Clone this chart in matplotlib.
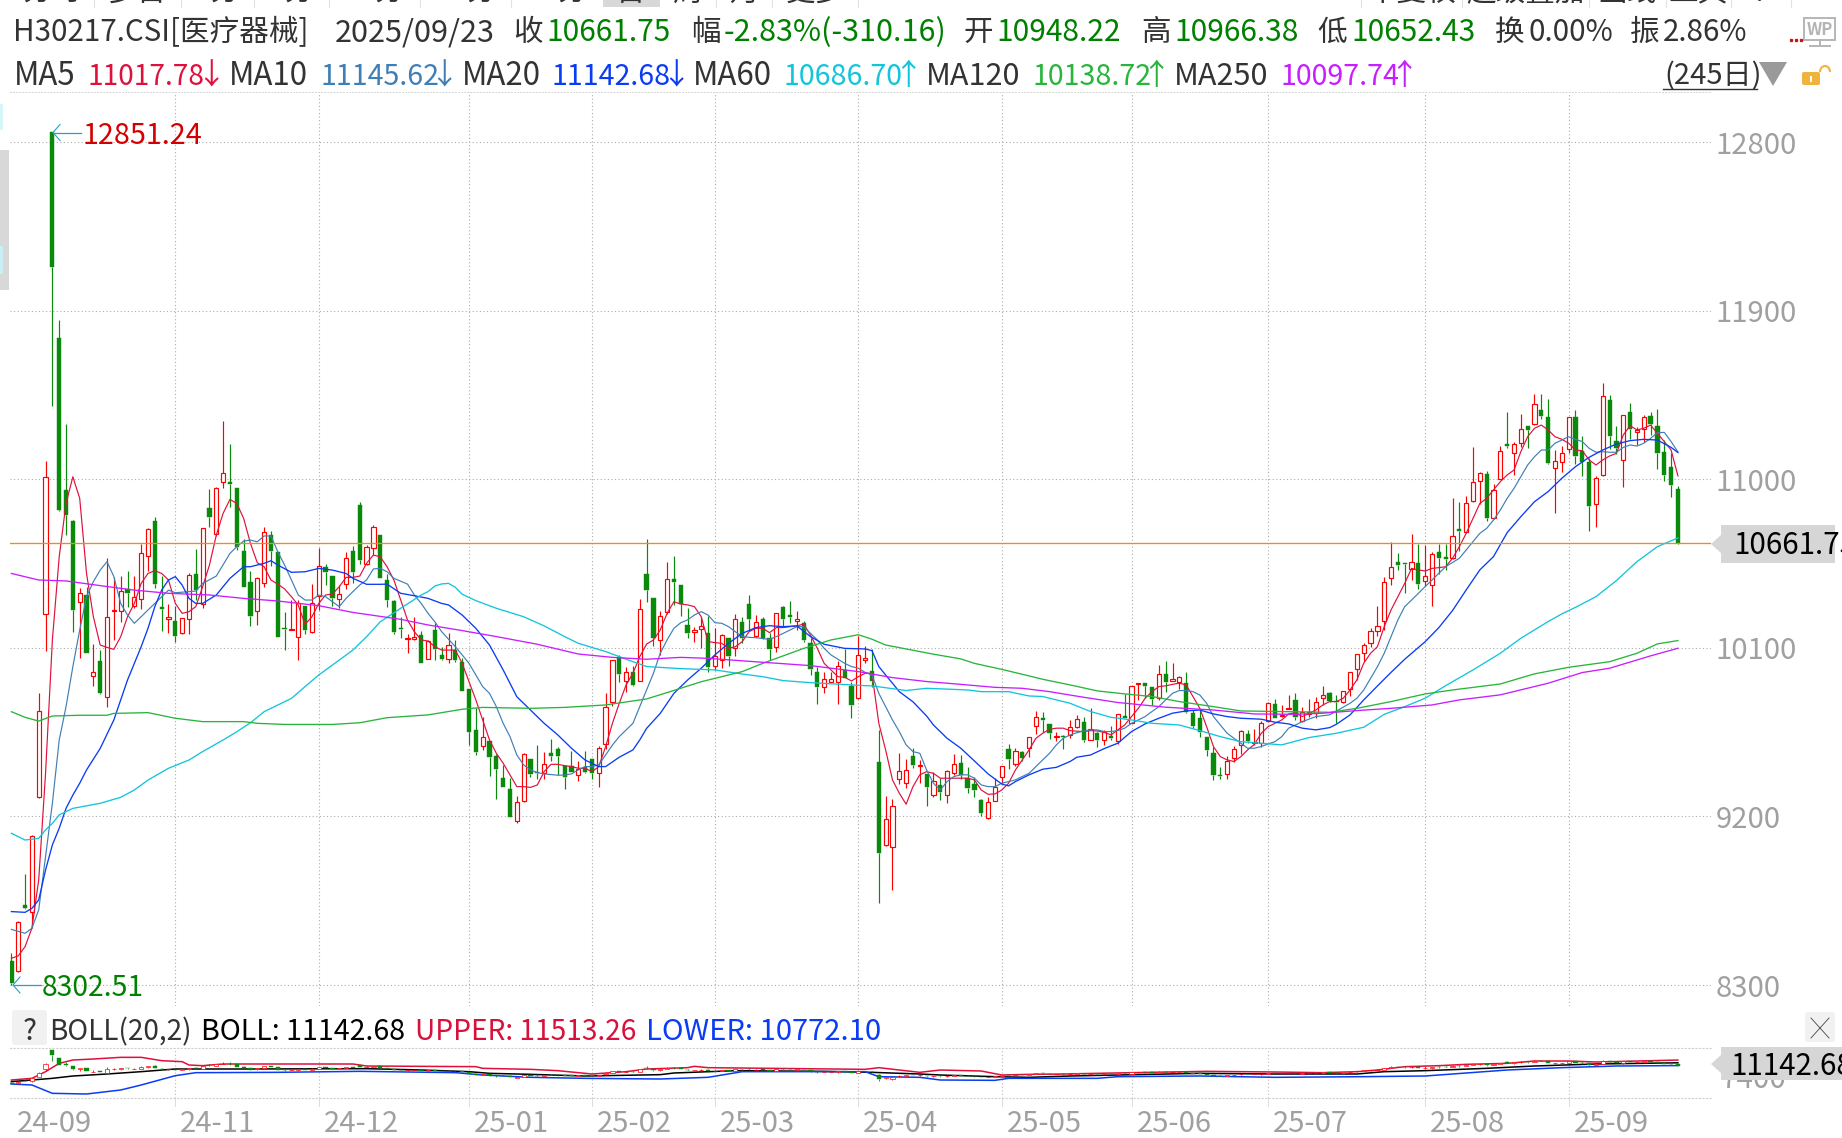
import matplotlib
matplotlib.use("Agg")
import matplotlib.pyplot as plt
from matplotlib.patches import Rectangle, FancyBboxPatch, Polygon, Arc

plt.rcParams['font.family'] = ['Noto Sans CJK SC', 'DejaVu Sans']

W, H = 1842, 1138

#%% candles
opens = [8430,8375,8727,8692,9306,10280,12851,11754,10942,10777,
    10346,10382,9951,10030,9839,10296,10298,10412,10325,10359,
    10592,10777,10316,10254,10243,10181,10252,10492,10334,10844,
    10707,10983,10983,10951,10617,10449,10298,10444,10702,10609,
    10206,10193,10156,10325,10186,10378,10533,10483,10359,10439,
    10617,10862,10545,10631,10702,10462,10350,10206,10145,10145,
    10168,10038,10195,10062,10042,10087,10023,9878,9662,9574,
    9603,9524,9405,9347,9174,9284,9505,9439,9434,9537,
    9560,9471,9471,9420,9462,9507,9430,9585,9813,10051,
    9921,9969,9921,10494,10366,10140,10289,10466,10435,10220,
    10186,10199,10177,10005,10035,10151,10101,10238,10334,10165,
    10254,10151,10103,10316,10273,10245,10234,10124,9969,9893,
    9919,9916,9983,9898,9830,10037,9977,9491,9046,9035,
    9398,9381,9523,9471,9427,9313,9366,9315,9434,9484,
    9404,9374,9288,9190,9281,9409,9558,9482,9544,9567,
    9683,9724,9692,9626,9630,9633,9679,9703,9607,9644,
    9610,9631,9605,9735,9701,9909,9911,9891,9834,9961,
    9925,9920,9911,9754,9724,9624,9539,9423,9425,9510,
    9580,9640,9594,9594,9712,9799,9735,9776,9820,9711,
    9747,9754,9831,9859,9816,9809,9879,9985,10071,10124,
    10188,10245,10471,10558,10551,10519,10553,10459,10434,10610,
    10583,10578,10733,10717,10882,10989,11028,10791,11003,11186,
    11138,11192,11284,11297,11370,11332,11058,11090,11160,11332,
    11151,11092,10866,11021,11421,11204,11101,11357,11254,11268,
    11336,11284,11145,11064,10948.22]
closes = [8313,8634,8709,9097,9761,11013,12134,10836,10809,10302,
    10391,10070,9969,9857,10266,10302,10405,10394,10373,10604,
    10732,10440,10307,10263,10165,10261,10487,10408,10738,10800,
    10951,11031,10976,10636,10426,10271,10471,10720,10618,10159,
    10200,10202,10341,10195,10337,10538,10506,10368,10389,10577,
    10503,10569,10636,10743,10471,10355,10186,10200,10150,10159,
    10021,10136,10092,10040,10113,10035,9871,9653,9546,9622,
    9519,9455,9359,9199,9275,9532,9428,9434,9478,9524,
    9524,9409,9439,9452,9436,9434,9564,9782,10033,9962,
    9969,9902,10305,10410,10154,10272,10466,10453,10334,10179,
    10193,10215,10000,10058,10167,10058,10252,10154,10256,10236,
    10152,10094,10284,10252,10266,10252,10144,9985,9893,9935,
    9932,10005,9941,9797,10060,10044,9925,9007,9185,9253,
    9441,9446,9475,9475,9359,9388,9333,9441,9478,9422,
    9352,9343,9220,9279,9359,9471,9509,9548,9512,9626,
    9733,9717,9647,9630,9626,9679,9719,9608,9665,9608,
    9649,9621,9745,9728,9897,9914,9898,9827,9959,9918,
    9932,9943,9760,9683,9653,9555,9422,9418,9494,9558,
    9655,9605,9599,9697,9804,9728,9740,9779,9733,9759,
    9756,9809,9847,9818,9813,9872,9969,10066,10114,10188,
    10215,10450,10530,10544,10548,10556,10443,10482,10599,10581,
    10576,10699,10726,10875,10983,11032,10795,10941,11149,11177,
    11186,11266,11265,11400,11339,11088,11099,11138,11330,11126,
    11090,10859,11005,11446,11233,11167,11341,11266,11263,11330,
    11293,11142,11023,10971,10661.75]
highs = [8471,8644,8893,9100,9857,11097,12851.24,11850,11295,10780,
    10417,10426,10120,10088,10578,10480,10483,10510,10483,10654,
    10738,10796,10483,10334,10325,10261,10497,10626,10738,10946,
    10960,11311,11188,10951,10679,10510,10476,10743,10725,10609,
    10291,10355,10355,10325,10440,10631,10547,10483,10435,10613,
    10643,10878,10649,10755,10702,10494,10355,10266,10174,10266,
    10190,10142,10231,10106,10177,10142,10044,9878,9777,9733,
    9603,9533,9475,9404,9309,9537,9505,9581,9542,9613,
    9569,9475,9551,9498,9551,9507,9576,9857,10033,10060,
    9996,10003,10361,10679,10366,10298,10558,10590,10435,10311,
    10213,10266,10270,10204,10172,10151,10281,10266,10382,10275,
    10263,10177,10284,10323,10350,10295,10243,10151,10000,9973,
    9973,10030,10094,9919,10163,10110,10092,9662,9309,9293,
    9541,9505,9564,9502,9427,9439,9404,9448,9534,9526,
    9462,9413,9295,9306,9407,9471,9587,9564,9551,9626,
    9763,9758,9692,9653,9635,9715,9742,9729,9777,9653,
    9662,9681,9745,9852,9897,9914,9911,9891,10007,10030,
    10019,9950,9971,9768,9768,9624,9569,9466,9523,9576,
    9662,9662,9667,9711,9813,9825,9795,9848,9857,9783,
    9825,9836,9896,9866,9848,9872,9969,10066,10124,10204,
    10323,10476,10663,10606,10555,10708,10654,10649,10613,10654,
    10654,10900,10877,10911,11170,11040,11042,10973,11177,11359,
    11201,11348,11284,11455,11455,11428,11156,11177,11330,11369,
    11231,11112,11017,11512,11450,11284,11341,11407,11277,11343,
    11359,11375,11209,11138,10966.38]
lows = [8302.51,8369,8704,8603,9297,10085,11391,10830,10702,10186,
    10044,10070,9898,9853,9782,10142,10240,10320,10311,10307,
    10512,10421,10190,10181,10133,10172,10174,10355,10311,10746,
    10697,10955,10853,10622,10426,10216,10222,10426,10537,10159,
    10088,10193,10035,10174,10181,10302,10435,10325,10311,10414,
    10448,10547,10542,10595,10471,10320,10174,10154,10070,10142,
    10021,10038,10035,10035,10021,10023,9871,9581,9528,9555,
    9416,9295,9355,9199,9163,9279,9412,9398,9398,9496,
    9421,9348,9439,9391,9430,9402,9359,9558,9791,9919,
    9866,9898,9921,10346,10112,10062,10281,10329,10272,10154,
    10133,10101,9973,9982,9994,10005,10056,10124,10192,10156,
    10149,10035,10080,10209,10234,10195,10131,9955,9800,9861,
    9919,9800,9937,9727,9827,10017,9893,8737,9043,8808,
    9374,9354,9461,9381,9258,9306,9288,9274,9422,9400,
    9327,9306,9203,9185,9281,9377,9455,9471,9496,9516,
    9640,9653,9615,9603,9562,9617,9671,9599,9607,9573,
    9582,9608,9587,9728,9697,9822,9831,9795,9822,9866,
    9925,9881,9751,9671,9626,9525,9395,9402,9402,9493,
    9534,9594,9582,9573,9706,9724,9729,9776,9715,9704,
    9733,9724,9795,9813,9701,9804,9843,9929,10032,10106,
    10165,10195,10436,10516,10395,10462,10414,10432,10325,10494,
    10516,10573,10617,10711,10880,10868,10779,10786,11003,11168,
    11023,11170,11168,11289,11321,11081,10822,11040,11138,11080,
    11019,10725,10747,11017,11161,11135,10960,11215,11183,11201,
    11236,11055,10991,10907,10652.43]

#%% moving averages
ma5 = [8443,8455,8505,8603,8861,9430,10142,10586,10871,11013,
    10898,10497,10266,10115,10102,10092,10159,10266,10337,10444,
    10497,10512,10497,10462,10337,10284,10293,10320,10426,10542,
    10702,10818,10892,10871,10791,10658,10554,10533,10462,10440,
    10414,10373,10328,10225,10266,10337,10382,10387,10426,10476,
    10476,10483,10551,10595,10586,10533,10462,10355,10248,10186,
    10142,10136,10106,10088,10088,10088,10017,9919,9822,9715,
    9608,9537,9484,9421,9359,9359,9355,9368,9439,9478,
    9478,9471,9466,9457,9457,9439,9466,9572,9697,9804,
    9902,9964,10053,10120,10142,10195,10284,10346,10334,10329,
    10320,10266,10133,10128,10124,10097,10106,10133,10186,10204,
    10204,10181,10208,10208,10213,10217,10227,10168,10097,10017,
    9982,9946,9943,9923,9946,9964,9964,9697,9555,9395,
    9324,9265,9359,9422,9439,9430,9404,9404,9404,9404,
    9404,9395,9341,9318,9320,9341,9377,9448,9502,9555,
    9617,9644,9665,9671,9671,9658,9655,9653,9658,9656,
    9649,9635,9662,9688,9733,9777,9831,9866,9893,9897,
    9905,9911,9902,9840,9777,9679,9573,9519,9502,9493,
    9519,9555,9585,9644,9679,9697,9715,9747,9754,9733,
    9751,9768,9795,9813,9813,9831,9875,9929,10018,10071,
    10106,10213,10302,10373,10444,10524,10516,10510,10524,10528,
    10533,10578,10640,10711,10791,10871,10898,10943,10987,11023,
    11049,11147,11227,11272,11289,11263,11227,11213,11192,11156,
    11152,11103,11076,11103,11124,11138,11236,11286,11263,11272,
    11289,11245,11201,11156,11017.78]

ma10_idx = [0,2,3,4,5,6,7,8,9,10,11,12,13,14,15,16,17,18,19,20,21,23,24,27,28,30,32,33,34,35,
    36,37,38,39,40,41,42,43,44,45,46,47,48,49,50,51,52,53,54,55,56,58,59,60,61,62,
    63,65,66,67,69,70,71,72,73,74,75,76,77,78,80,81,82,83,84,85,86,87,88,89,91,92,93,94,95,96,
    97,98,99,100,101,102,103,104,105,106,107,108,109,111,112,113,115,116,117,118,119,120,122,123,124,125,
    126,127,128,129,130,131,132,133,134,135,136,137,138,139,140,141,142,143,144,145,146,147,148,149,150,
    151,152,153,154,155,156,157,158,159,160,161,162,163,164,165,166,167,168,169,170,171,172,173,174,175,
    176,177,178,179,180,181,182,183,184,185,186,187,188,189,191,193,195,196,197,198,199,200,201,202,203,
    204,205,206,207,208,209,210,212,213,214,215,216,217,218,219,220,221,222,223,224,225,226,227,228,229,
    230,231,232,233,234,235,236,237,238,239,240,241,242,243,244]
ma10_val = [8597,8576,8603,8701,8985,9270,9608,9786,10000,10195,10373,10453,10515,10560,10480,10337,10275,10231,10266,10302,10337,10408,10394,10403,10444,10483,10604,10640,10670,10675,
    10666,10697,10697,10613,10542,10462,10382,10355,10355,10382,10373,10346,10320,10364,10400,10435,10462,10521,10524,10506,10471,10440,10382,10337,10284,10239,
    10186,10106,10062,10017,9893,9857,9786,9697,9626,9528,9475,9448,9434,9427,9420,9421,9427,9448,9466,9466,9475,9528,9581,9626,9697,9786,9875,9964,10071,10142,
    10204,10234,10249,10275,10293,10275,10234,10231,10213,10186,10160,10156,10154,10145,10160,10177,10213,10213,10177,10142,10097,10062,10017,10000,9991,9969,
    9955,9857,9786,9715,9653,9582,9546,9537,9448,9377,9341,9386,9413,9422,9422,9404,9368,9359,9359,9377,9386,9395,9413,9430,9466,
    9502,9537,9582,9617,9635,9647,9656,9662,9662,9653,9653,9658,9671,9697,9715,9733,9760,9786,9822,9857,9872,9872,9866,9848,9804,
    9733,9688,9644,9617,9591,9564,9564,9573,9587,9599,9626,9671,9688,9706,9733,9742,9783,9804,9831,9875,9937,9999,10071,10160,10249,
    10320,10355,10391,10427,10462,10498,10533,10578,10622,10667,10711,10738,10782,10836,10898,10951,11014,11076,11120,11156,11156,11192,11209,11227,11213,
    11201,11165,11144,11147,11144,11144,11170,11183,11177,11192,11218,11248,11250,11201,11145.62]

ma20_idx = [0,2,3,4,5,6,7,8,9,10,11,13,15,16,17,18,19,20,21,22,23,24,25,26,27,28,30,32,34,35,37,38,39,41,43,45,47,49,50,52,54,55,57,59,61,
    63,64,66,68,70,72,74,76,78,80,82,84,86,87,89,91,92,93,95,97,99,101,103,105,107,109,111,113,115,117,119,122,125,
    126,127,128,129,130,132,134,135,137,139,141,143,145,146,147,149,151,153,155,156,158,160,162,164,166,168,170,172,174,176,178,180,183,185,187,
    189,191,193,194,196,198,200,202,204,207,209,211,213,215,217,219,221,223,225,227,229,231,233,235,237,239,241,243,244]
ma20_val = [8692,8688,8709,8754,8914,9048,9137,9243,9314,9377,9448,9563,9715,9821,9928,10017,10106,10204,10320,10408,10462,10480,10435,10364,10337,10337,10382,10471,10533,10533,10551,10565,10542,10503,10506,10524,10515,10497,10471,10439,10439,10440,10391,10378,10364,
    10337,10329,10275,10204,10115,9982,9839,9768,9697,9635,9564,9501,9466,9466,9516,9555,9608,9670,9750,9857,9928,9991,10062,10124,10177,10208,10218,10213,10217,10160,10119,10097,10094,
    10085,10000,9955,9911,9866,9812,9736,9688,9617,9564,9496,9427,9373,9363,9386,9422,9452,9462,9493,9516,9528,9562,9591,9653,9694,9724,9751,9763,9768,9747,9733,9724,9719,9703,9694,
    9671,9662,9674,9692,9742,9822,9896,9969,10039,10133,10208,10299,10409,10516,10587,10715,10800,10880,10934,11005,11067,11117,11156,11188,11206,11213,11209,11170,11142.68]

ma60_idx = [0,2,4,5,6,7,9,13,16,18,20,23,26,28,31,33,35,37,41,43,45,47,50,52,54,57,60,
    61,62,63,64,65,66,68,71,75,78,81,83,87,89,91,93,98,103,107,110,113,117,125,
    126,131,134,140,142,146,149,151,155,158,161,164,167,171,174,177,180,186,
    190,194,198,201,204,207,210,214,218,221,225,227,229,232,235,238,241,244]
ma60_val = [9110,9074,9083,9128,9163,9208,9243,9270,9302,9341,9394,9457,9501,9546,9608,9652,9700,9759,9830,9893,9955,10008,10088,10159,10239,10311,10382,
    10400,10430,10441,10444,10423,10386,10352,10311,10266,10217,10160,10124,10080,10053,10026,10000,9989,9982,9960,9946,9925,9914,9898,
    9897,9872,9884,9875,9866,9866,9843,9840,9804,9760,9729,9715,9697,9688,9658,9626,9599,9582,
    9621,9644,9676,9745,9786,9831,9898,9982,10071,10151,10240,10281,10316,10373,10459,10560,10640,10686.70]

ma120_idx = [0,2,4,6,10,14,15,20,24,28,34,36,40,47,51,55,
    61,66,69,76,81,87,93,96,101,107,110,116,120,124,
    126,128,131,135,139,141,145,149,151,155,159,163,167,171,176,180,
    193,197,202,207,211,218,223,228,234,238,241,244]
ma120_val = [9759,9729,9709,9736,9740,9740,9750,9754,9724,9706,9706,9697,9691,9691,9700,9727,
    9742,9772,9782,9777,9782,9795,9827,9861,9919,9973,10017,10097,10142,10170,
    10146,10115,10094,10066,10041,10017,9985,9950,9932,9902,9870,9854,9840,9813,9786,9763,
    9756,9777,9813,9854,9875,9907,9961,9996,10026,10071,10121,10138.72]

ma250_idx = [0,4,8,13,18,23,29,34,39,45,50,57,
    61,66,71,77,83,88,93,98,102,108,117,
    124,129,134,139,144,148,152,157,162,169,176,182,188,
    192,197,202,208,212,218,225,230,234,240,244]
ma250_val = [10497,10462,10457,10432,10408,10391,10382,10364,10350,10325,10289,10252,
    10222,10192,10160,10119,10067,10049,10039,10049,10044,10028,10005,
    9973,9941,9920,9905,9889,9884,9866,9836,9808,9783,9768,9747,9745,
    9751,9765,9777,9795,9822,9849,9911,9968,9991,10057,10097.74]

#%% BOLL lines of the bottom panel
upper_idx = [0,3,5,7,9,12,16,19,22,25,26,28,31,50,52,68,69,76,80,85,90,93,99,100,102,125,127,
    133,136,142,145,149,154,164,175,185,192,197,200,204,209,213,219,223,228,232,244]
upper_val = [8842,9065,9957,11072,11518,11652,11875,11875,11429,11295,10849,10760,10983,10983,10715,10626,10403,10269,10091,9645,9957,10314,10492,10671,10492,10269,10492,
    9868,10180,10046,9511,9600,9645,9823,10002,9913,9823,9957,10180,10626,10760,10938,11072,11384,11384,11250,11513.26]
mid_idx = [0,3,6,9,14,19,24,34,52,60,67,70,76,84,95,97,106,119,126,
    133,136,144,149,155,162,174,185,197,201,207,216,223,232,244]
mid_val = [8619,8842,9065,9377,9645,9957,10314,10314,10359,10180,9957,9734,9600,9377,9556,9779,10091,10002,9868,
    9645,9511,9288,9199,9377,9511,9734,9645,9645,9957,10091,10403,10715,10983,11142.68]
lower_idx = [0,3,6,11,16,19,24,27,39,51,65,69,76,84,95,102,107,125,127,
    133,136,144,146,159,162,174,185,198,207,211,219,227,235,244]
lower_val = [8307,8173,7058,6969,7504,8173,9422,9823,9868,10002,9823,9511,9199,9065,8976,9199,9957,9957,9288,
    9199,8842,8797,9065,9065,9288,9377,9199,9288,9377,9645,10180,10492,10715,10772.10]

price_ticks = [12800, 11900, 11000, 10100, 9200, 8300]
month_idx = [0, 24, 45, 67, 85, 103, 124, 145, 164, 184, 207, 228]
month_labels = ['24-09', '24-11', '24-12', '25-01', '25-02', '25-03',
                '25-04', '25-05', '25-06', '25-07', '25-08', '25-09']
last_close = 10661.75

RED, GREEN = '#ff0000', '#0a8a0a'
C5, C10, C20, C60, C120, C250 = '#e0103c', '#3f7fb5', '#0a3cf5', '#12c5dc', '#28b53c', '#c81eff'
DARK, GRAY, VALG = '#333333', '#a0a0a0', '#008000'
DOT = (0, (1, 2.2))


def candles(ax, body_w, wick_w, edge_w):
    for i in range(len(opens)):
        up = closes[i] >= opens[i]
        col = RED if up else GREEN
        top, bot = max(opens[i], closes[i]), min(opens[i], closes[i])
        ax.vlines(i, top, highs[i], color=col, lw=wick_w, zorder=2)
        ax.vlines(i, lows[i], bot, color=col, lw=wick_w, zorder=2)
        ax.add_patch(Rectangle((i - body_w / 2, bot), body_w, top - bot, facecolor='white' if up else col,
                               edgecolor=col, lw=edge_w if up else 0.3, zorder=2.5))


fig = plt.figure(figsize=(W / 100, H / 100), dpi=100, facecolor='white')


def px_axes(x0, y0, x1, y1):
    return fig.add_axes([x0 / W, 1 - y1 / H, (x1 - x0) / W, (y1 - y0) / H])


# bar i sits at pixel 11.4 + 6.83 * i
xlim = ((10 - 11.4) / 6.83, (1711 - 11.4) / 6.83)

#%% main panel
ax = px_axes(10, 92, 1711, 1006)
ax.set_xlim(xlim)
ax.set_ylim(8188, 13067)
for s in ax.spines.values():
    s.set_visible(False)
ax.spines['top'].set_visible(True)
ax.spines['top'].set_color('#d4d4d4')
ax.spines['top'].set_linestyle(DOT)
ax.spines['top'].set_linewidth(0.7)
ax.yaxis.tick_right()
ax.set_yticks(price_ticks)
ax.tick_params(axis='y', length=0, pad=3.5, labelsize=21, labelcolor=GRAY)
ax.set_xticks([])
for p in price_ticks:
    ax.axhline(p, color='#ababab', lw=0.8, ls=DOT, zorder=1)
for m in month_idx[1:]:
    ax.axvline(m, color='#ababab', lw=0.8, ls=DOT, zorder=1)

candles(ax, 0.62, 0.85, 0.85)
ax.plot(range(len(ma5)), ma5, color=C5, lw=0.85, zorder=3)
ax.plot(ma10_idx, ma10_val, color=C10, lw=0.85, zorder=3)
ax.plot(ma20_idx, ma20_val, color=C20, lw=0.95, zorder=3)
ax.plot(ma60_idx, ma60_val, color=C60, lw=0.95, zorder=3)
ax.plot(ma120_idx, ma120_val, color=C120, lw=0.95, zorder=3)
ax.plot(ma250_idx, ma250_val, color=C250, lw=0.95, zorder=3)
ax.axhline(last_close, color='#f08a1e', lw=0.95, zorder=3.5)

#%% BOLL panel
ax2 = px_axes(10, 1048, 1711, 1098)
ax2.set_xlim(xlim)
ax2.set_ylim(6434, 13124)
for s in ax2.spines.values():
    s.set_visible(False)
for side in ('top', 'bottom'):
    ax2.spines[side].set_visible(True)
    ax2.spines[side].set_color('#d0d0d0')
    ax2.spines[side].set_linestyle(DOT)
    ax2.spines[side].set_linewidth(0.8)
ax2.set_yticks([])
ax2.set_xticks([])
for m in month_idx[1:]:
    ax2.axvline(m, color='#b8b8b8', lw=0.8, ls=DOT, zorder=1)
    ax2.plot([m, m], [0, -0.16], color='#dcdcdc', lw=0.7, clip_on=False,
             transform=ax2.get_xaxis_transform())
ax2.plot(upper_idx, upper_val, color='#e0103c', lw=1.1, zorder=1.5)
ax2.plot(mid_idx, mid_val, color='black', lw=1.1, zorder=1.5)
ax2.plot(lower_idx, lower_val, color='#0a3cf5', lw=1.1, zorder=1.5)
candles(ax2, 0.62, 0.6, 0.5)
for m, lab in zip(month_idx, month_labels):
    ax2.annotate(lab, xy=(m, 0), xycoords=('data', 'axes fraction'), xytext=(3.6, -18.5),
                 textcoords='offset points', ha='left', va='center', fontsize=21, color=GRAY,
                 annotation_clip=False)

#%% header, labels, icons in pixel coordinates
ov = fig.add_axes([0, 0, 1, 1], zorder=5)
ov.set_xlim(0, W)
ov.set_ylim(H, 0)
ov.axis('off')


def put(x, y, s, color=DARK, size=21.3, **kw):
    return ov.text(x, y, s, color=color, fontsize=size, ha=kw.pop('ha', 'left'), va='baseline', **kw)


# cut off tabs along the top edge
ov.add_patch(Rectangle((603, 0), 57, 7, color='#d8d8d8', lw=0))
for x in [94, 181, 254, 329, 420, 511, 716, 772, 858, 1361, 1462, 1589, 1666, 1731, 1791]:
    ov.plot([x, x], [0, 7], color='#e2e2e2', lw=0.8)
for x, s in zip([52, 137, 217, 291, 374, 465, 557, 631, 688, 744, 815, 1412, 1525, 1627, 1698, 1760],
                ['分时', '多日', '1分', '5分', '15分', '30分', '60分', '日', '周', '月', '更多',
                 '不复权', '超级叠加', '画线', '工具', '?']):
    put(x, 1, s, ha='center')

for x, s, c, sz in [(13, 'H30217.CSI[医疗器械]', DARK, 21.3), (335, '2025/09/23', DARK, 22), (513, '收', DARK, 21.3),
                    (546, '10661.75', VALG, 21.5), (691, '幅', DARK, 21.3), (724, '-2.83%(-310.16)', VALG, 22),
                    (963, '开', DARK, 21.3), (996, '10948.22', VALG, 21.5), (1141, '高', DARK, 21.3),
                    (1174, '10966.38', VALG, 21.5), (1317, '低', DARK, 21.3), (1351, '10652.43', VALG, 21.5),
                    (1495, '换', DARK, 21.3), (1528, '0.00%', DARK, 21.3),
                    (1630, '振', DARK, 21.3), (1663, '2.86%', DARK, 21.3)]:
    put(x, 41, s, c, size=sz)
for x, s, c, sz in [(14, 'MA5', DARK, 22.5), (87, '11017.78', C5, 20.2), (229, 'MA10', DARK, 22.5),
                    (320, '11145.62', C10, 20.6), (462, 'MA20', DARK, 22.5), (551, '11142.68', C20, 20.6),
                    (693, 'MA60', DARK, 22.5), (783, '10686.70', C60, 20.6), (926, 'MA120', DARK, 22),
                    (1032, '10138.72', C120, 20.6), (1174, 'MA250', DARK, 22), (1280, '10097.74', C250, 20.6),
                    (1664, '(245日)', DARK, 21)]:
    put(x, 84.5, s, c, size=sz)
for x, s, c in [(211, '↓', C5), (444, '↓', C10), (676, '↓', C20), (908, '↑', C60), (1156, '↑', C120), (1404, '↑', C250)]:
    put(x, 84.5, s, c, ha='center')
ov.plot([1663, 1757], [89, 89], color=DARK, lw=1.0)
ov.add_patch(Polygon([[1759, 62], [1787, 62], [1773, 86]], color='#9a9a9a', lw=0))

# lock
ov.add_patch(FancyBboxPatch((1802, 72), 18, 13, boxstyle='round,pad=0,rounding_size=2', color='#f0b33c', lw=0))
ov.add_patch(Rectangle((1810, 76), 2.4, 6, color='white', lw=0))
ov.add_patch(Arc((1825, 72), 10, 12, theta1=180, theta2=360, color='#f0b33c', lw=1.5))

# WP monitor
ov.add_patch(Rectangle((1804, 18), 31, 22, fill=False, ec='#b5b5b5', lw=1.4))
ov.text(1819.5, 29.5, 'WP', color='#b5b5b5', fontsize=12, fontweight='bold', ha='center', va='center')
ov.plot([1819.5, 1819.5], [40, 45], color='#b5b5b5', lw=1.4)
ov.plot([1810, 1830], [45.5, 45.5], color='#b5b5b5', lw=1.4)
ov.plot([1791, 1796, 1801], [39.5, 39.5, 39.5], ls='none', marker='s', ms=1.4, color='#d01010')

# left edge remains of the side toolbar
ov.add_patch(Rectangle((0, 150), 9, 140, color='#d8d8d8', lw=0))
ov.add_patch(Rectangle((0, 104), 3, 26, color='#d6f6f8', lw=0))
ov.add_patch(Rectangle((0, 246), 3, 28, color='#c8f0f4', lw=0))

# high / low markers
for x0, x1, y in [(53, 81, 132.5), (13, 41, 985)]:
    ov.plot([x0, x1], [y, y], color='#2a9fc2', lw=0.9)
    ov.plot([x0 + 7, x0, x0 + 7], [y - 8, y, y + 8], color='#2a9fc2', lw=0.8)
put(82, 144, '12851.24', '#d40000', size=20.7)
put(42, 996, '8302.51', VALG, size=20.4)

# last price tag
ov.add_patch(Polygon([[1711, 544], [1721, 535], [1721, 553]], color='#d6d6d6', lw=0))
tag = Rectangle((1721, 525), 114, 38, color='#d6d6d6', lw=0, zorder=2)
ov.add_patch(tag)
t = put(1733, 554, '10661.75', 'black', zorder=3)
t.set_clip_path(tag)

# BOLL row
ov.add_patch(FancyBboxPatch((12, 1010), 35, 35, boxstyle='round,pad=0,rounding_size=3', color='#f1f1f1', lw=0))
put(29.5, 1040, '?', DARK, ha='center')
put(49, 1040, 'BOLL(20,2)', DARK, size=20.1)
put(201, 1040, 'BOLL: 11142.68', 'black', size=20.5)
put(415, 1040, 'UPPER: 11513.26', '#d8103c', size=20.2)
put(646, 1040, 'LOWER: 10772.10', '#0a3cf5', size=21)
ov.add_patch(FancyBboxPatch((1805, 1012), 30, 30, boxstyle='round,pad=0,rounding_size=3', color='#f1f1f1', lw=0))
ov.plot([1811, 1829], [1018, 1038], color='#444444', lw=0.6)
ov.plot([1811, 1829], [1038, 1018], color='#444444', lw=0.6)

# BOLL value tag, with the axis label it covers
put(1720, 1088, '7400', GRAY, zorder=1)
ov.add_patch(Polygon([[1711, 1064], [1721, 1055], [1721, 1073]], color='#d6d6d6', lw=0))
tag2 = Rectangle((1721, 1047), 121, 33, color='#d6d6d6', lw=0, zorder=2)
ov.add_patch(tag2)
t2 = put(1730, 1075, '11142.68', 'black', zorder=3)
t2.set_clip_path(tag2)

fig.savefig('out.png', dpi=100, facecolor='white')
